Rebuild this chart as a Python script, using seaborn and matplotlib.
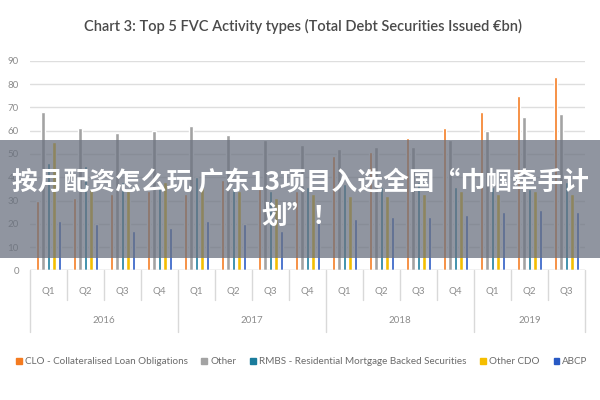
import pandas as pd
import matplotlib.pyplot as plt
import matplotlib.transforms as mtransforms
from matplotlib.patches import Rectangle
import seaborn as sns

# Data (EUR bn)
years = ['2016', '2017', '2018', '2019']
quarters = ['Q1', 'Q2', 'Q3', 'Q4', 'Q1', 'Q2', 'Q3', 'Q4', 'Q1', 'Q2', 'Q3', 'Q4', 'Q1', 'Q2', 'Q3']
year_of = ['2016'] * 4 + ['2017'] * 4 + ['2018'] * 4 + ['2019'] * 3
series = ['CLO - Collateralised Loan Obligations', 'Other',
          'RMBS - Residential Mortgage Backed Securities', 'Other CDO', 'ABCP']
clo = [30, 31, 33, 34, 33, 39, 35, 34, 49, 51, 57, 61, 68, 75, 83]
other = [68, 61, 59, 60, 62, 58, 56, 54, 52, 53, 53, 56, 60, 66, 67]
rmbs = [46, 45, 38, 37, 40, 36, 34, 36, 37, 36, 38, 36, 36, 35, 38]
other_cdo = [55, 35, 34, 38, 36, 34, 31, 33, 32, 32, 33, 34, 33, 34, 33]
abcp = [21, 20, 17, 18, 21, 20, 17, 22, 22, 23, 23, 24, 25, 26, 25]

colors = ['#F47B20', '#A3A3A3', '#1A7C9C', '#F5BE00', '#2859C4']

periods = [y + ' ' + q for y, q in zip(year_of, quarters)]
rows = []
for name, vals in zip(series, [clo, other, rmbs, other_cdo, abcp]):
    for p, v in zip(periods, vals):
        rows.append({'period': p, 'series': name, 'value': v})
df = pd.DataFrame(rows)

sns.set_theme(style='white')
plt.rcParams['font.family'] = ['Lato', 'DejaVu Sans']

fig = plt.figure(figsize=(6, 4), dpi=100)
ax = fig.add_axes([0.05, 0.324, 0.925, 0.524])

sns.barplot(data=df, x='period', y='value', hue='series', order=periods,
            hue_order=series, palette=dict(zip(series, colors)),
            width=0.75, gap=0.4, legend=False, ax=ax, saturation=1)

ax.set_ylim(0, 90)
ax.set_xlim(-0.5, len(periods) - 0.5)
ax.set_yticks(range(0, 100, 10))
ax.tick_params(axis='y', labelsize=7, colors='#8c8c8c', length=0, pad=8)
ax.yaxis.grid(True, color='#dedede', linewidth=1)
ax.set_axisbelow(True)
for s in ax.spines.values():
    s.set_visible(False)
ax.axhline(0, color='#d9d9d9', linewidth=1)
ax.set_xticks([])
ax.set_xlabel('')
ax.set_ylabel('')

# two-level category axis
trans = mtransforms.blended_transform_factory(ax.transData, ax.transAxes)
for i, q in enumerate(quarters):
    ax.text(i, -0.10, q, transform=trans, ha='center', va='center',
            fontsize=7, color='#8c8c8c')
for i in range(len(periods) + 1):
    x = i - 0.5
    bottom = -0.294 if i in (0, 4, 8, 12, 15) else -0.141
    ax.plot([x, x], [0, bottom], transform=trans, color='#d9d9d9',
            linewidth=1, clip_on=False)
for k, y in enumerate(years):
    idx = [i for i, yy in enumerate(year_of) if yy == y]
    ax.text(sum(idx) / len(idx), -0.241, y, transform=trans, ha='center',
            va='center', fontsize=7, color='#8c8c8c')

fig.text(0.505, 0.935, 'Chart 3: Top 5 FVC Activity types (Total Debt Securities Issued \u20acbn)',
         ha='center', va='center', fontsize=10.5, color='#4a4a4a', fontweight='semibold')

handles = [Rectangle((0, 0), 1, 1, color=c) for c in colors]
fig.legend(handles, series, loc='center', bbox_to_anchor=(0.503, 0.095), ncol=5,
           frameon=False, fontsize=7.1, handlelength=0.6, handleheight=0.6,
           handletextpad=0.3, columnspacing=1.4, labelcolor='#6b6b6b')

# grey banner with headline across the middle
fig.add_artist(Rectangle((0, 0.355), 1, 0.295, transform=fig.transFigure,
                         facecolor='#6b7280', alpha=0.75, edgecolor='none', zorder=5))
cjk = ['Noto Sans CJK SC', 'DejaVu Sans']
fig.text(0.5, 0.543, '按月配资怎么玩 广东13项目入选全国“巾帼牵手计', ha='center', va='center',
         fontsize=18.5, fontweight='bold', color='white', family=cjk, zorder=6)
fig.text(0.5, 0.458, '划”！', ha='center', va='center',
         fontsize=18.5, fontweight='bold', color='white', family=cjk, zorder=6)

fig.savefig('out.png', dpi=100)
